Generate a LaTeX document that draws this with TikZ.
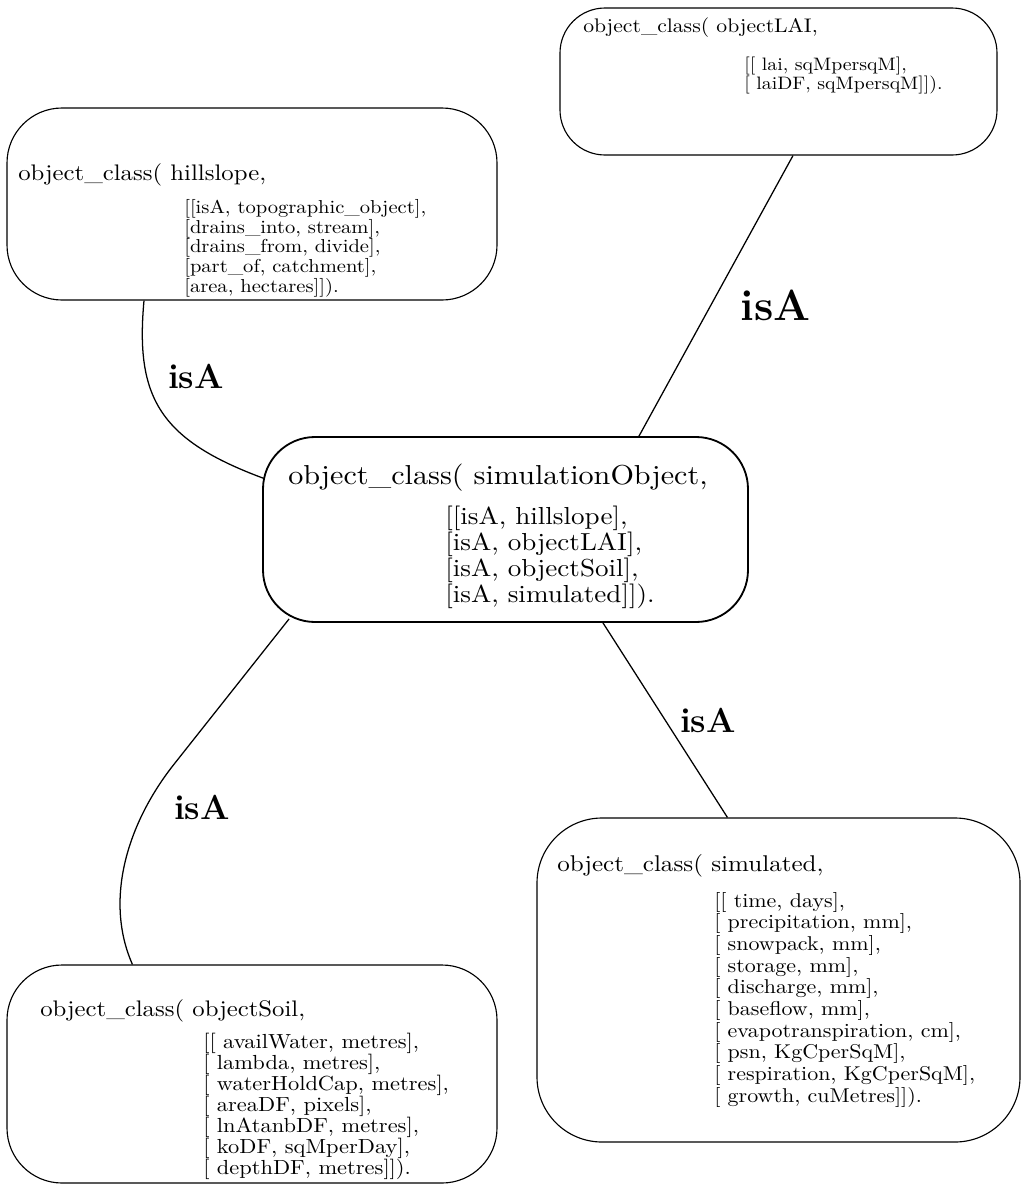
\documentclass[tikz,border=0pt]{standalone}
\usepackage{fontspec}
\setmainfont{lmroman10-regular}[Extension=.otf, BoldFont=lmroman10-bold, FakeStretch=1.1]
\newfontfamily\labelfont{Latin Modern Roman}
\usetikzlibrary{calc}
\begin{document}
\begin{tikzpicture}[x=0.025cm, y=-0.025cm,
  classbox/.style={draw, line width=0.8pt, inner sep=0pt, rounded corners=#1},
  pxsize/.style 2 args={minimum width=#1*0.025cm, minimum height=#2*0.025cm},
  ttl/.style={anchor=base west, inner sep=0pt, font=\fontsize{#1}{#1}\selectfont},
  lst/.style 2 args={anchor=north west, inner sep=0pt, align=left, font=\fontsize{#1}{#2}\selectfont},
  link/.style={line width=0.9pt},
  isalabel/.style={inner sep=0pt, font=\labelfont\bfseries\fontsize{#1}{#1}\selectfont}]

\useasboundingbox (0,0) rectangle (1021,1197);
\fill[white] (0,0) rectangle (1021,1197);

% class boxes
\node[classbox=1.375cm, pxsize={490}{192}] (hill) at (252,204) {};
\node[classbox=1.125cm, pxsize={437}{147}] (lai)  at (778.5,81.5) {};
\node[classbox=1.3cm, pxsize={485}{185}, line width=1.3pt] (sim) at (505.5,529.5) {};
\node[classbox=1.625cm, pxsize={483}{324}] (simd) at (778.5,980) {};
\node[classbox=1.375cm, pxsize={490}{218}] (soil) at (252,1074) {};

% hillslope
\node[ttl=16pt] (hill-t) at (18,180) {object\_class( hillslope,};
\node[lst={13.3pt}{14pt}] (hill-l) at (184,199) {[[isA, topographic\_object],\\{}[drains\_into, stream],\\{}[drains\_from, divide],\\{}[part\_of, catchment],\\{}[area, hectares]]).};

% objectLAI
\node[ttl=14pt] (lai-t) at (583,32) {object\_class( objectLAI,};
\node[lst={12.8pt}{13.5pt}] (lai-l) at (744,57) {[[ lai, sqMpersqM],\\{}[ laiDF, sqMpersqM]]).};

% simulationObject
\node[ttl=19.5pt] (sim-t) at (288,484) {object\_class( simulationObject,};
\node[lst={17.5pt}{16.4pt}] (sim-l) at (445,506) {[[isA, hillslope],\\{}[isA, objectLAI],\\{}[isA, objectSoil],\\{}[isA, simulated]]).};

% simulated
\node[ttl=16.2pt] (simd-t) at (557,871) {object\_class( simulated,};
\node[lst={14.2pt}{15.4pt}] (simd-l) at (714,892) {[[ time, days],\\{}[ precipitation, mm],\\{}[ snowpack, mm],\\{}[ storage, mm],\\{}[ discharge, mm],\\{}[ baseflow, mm],\\{}[ evapotranspiration, cm],\\{}[ psn, KgCperSqM],\\{}[ respiration, KgCperSqM],\\{}[ growth, cuMetres]]).};

% objectSoil
\node[ttl=16pt] (soil-t) at (40,1016) {object\_class( objectSoil,};
\node[lst={14.5pt}{14.9pt}] (soil-l) at (203,1033) {[[ availWater, metres],\\{}[ lambda, metres],\\{}[ waterHoldCap, metres],\\{}[ areaDF, pixels],\\{}[ lnAtanbDF, metres],\\{}[ koDF, sqMperDay],\\{}[ depthDF, metres]]).};

% connector end points on the box borders
\coordinate (hill-out) at ($(hill.south)+(-108,0)$);
\coordinate (sim-in-hill) at ($(sim.west)+(2,-51)$);
\coordinate (lai-out) at ($(lai.south)+(14.5,0)$);
\coordinate (sim-in-lai) at ($(sim.north)+(133.5,0)$);
\coordinate (sim-out-soil) at ($(sim.south west)+(27,-4)$);
\coordinate (soil-in) at ($(soil.north west)+(126,0)$);
\coordinate (sim-out-simd) at ($(sim.south)+(97.5,0)$);
\coordinate (simd-in) at ($(simd.north west)+(191,0)$);
\coordinate (soil-bend) at (175,763);

% isA links
\draw[link] (hill-out) .. controls (135,398) and (160,440) .. (sim-in-hill);
\draw[link] (lai-out) -- (sim-in-lai);
\draw[link] (sim-out-soil) -- (soil-bend) .. controls (127,823) and (104,900) .. (soil-in);
\draw[link] (sim-out-simd) -- (simd-in);

\node[isalabel=24.7pt] (isa-hill) at (196,376) {isA};
\node[isalabel=31pt]   (isa-lai)  at (776,305) {isA};
\node[isalabel=24.7pt] (isa-soil) at (202,807) {isA};
\node[isalabel=24.7pt] (isa-simd) at (708,720) {isA};
\end{tikzpicture}
\end{document}
